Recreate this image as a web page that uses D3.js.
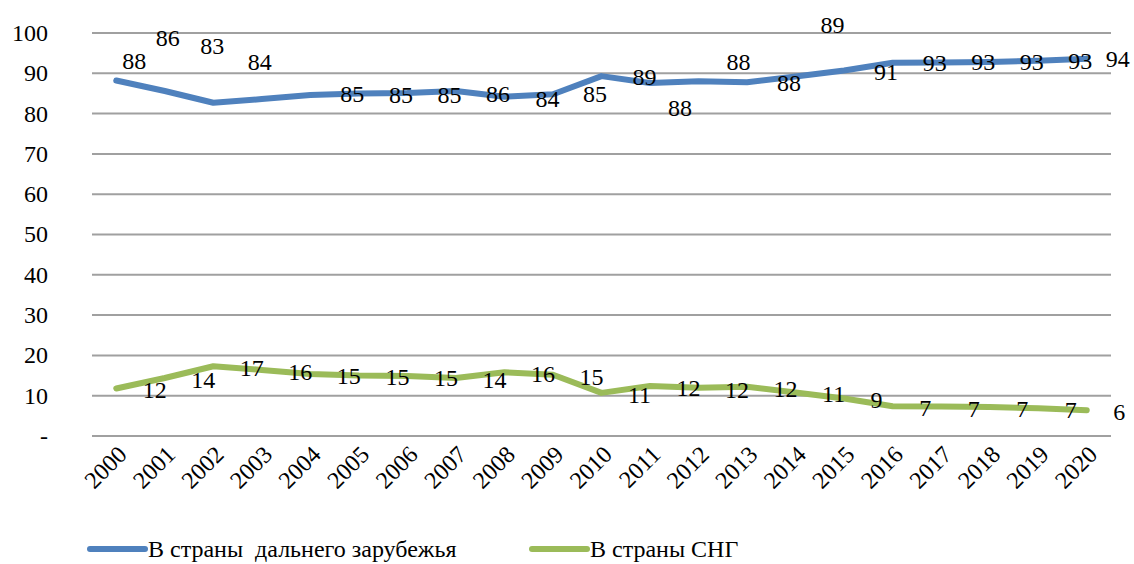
<!DOCTYPE html>
<html>
<head>
<meta charset="utf-8">
<script src="https://cdn.jsdelivr.net/npm/d3@7"></script>
<style>
  body { margin: 0; background: #fff; }
</style>
</head>
<body>
<div id="chart"></div>
<script>
// years on the x axis
const years = ["2000", "2001", "2002", "2003", "2004", "2005", "2006", "2007", "2008", "2009", "2010",
               "2011", "2012", "2013", "2014", "2015", "2016", "2017", "2018", "2019", "2020"];

// share of exports, %
const farAbroad = [88.2, 85.6, 82.7, 83.6, 84.6, 85.0, 85.1, 85.6, 84.2, 84.8, 89.3,
                   87.6, 88.0, 87.8, 89.2, 90.7, 92.6, 92.7, 92.8, 93.1, 93.6];
const cis = [11.8, 14.4, 17.3, 16.4, 15.4, 15.0, 14.9, 14.4, 15.8, 15.2, 10.7,
             12.4, 12.0, 12.2, 10.8, 9.3, 7.4, 7.3, 7.2, 6.9, 6.4];

const yTicks = [0, 10, 20, 30, 40, 50, 60, 70, 80, 90, 100];
const seriesNames = ["В страны  дальнего зарубежья", "В страны СНГ"];

// hand-placed label nudges for the blue series (px from the point)
const blueLabelShift = [[18, -19], [3, -53], [-1, -57], [-2, -37], [42, -1], [42, 2], [42, 2], [42, 3],
                        [43, 2], [42, 0], [43, 1], [30, 25], [40, -19], [42, 1], [37, -51], [42, 2],
                        [42, 0], [42, 0], [42, 0], [42, 0], [31, 0]];

const width = 1134, height = 564;
const plot = { left: 92, right: 1111, top: 33, bottom: 436 };

const svg = d3.select("#chart").append("svg")
    .attr("width", width)
    .attr("height", height)
    .style("font-family", "'Liberation Serif'")
    .style("font-size", "24px");

const x = d3.scaleBand().domain(years).range([plot.left, plot.right]);
const y = d3.scaleLinear().domain([0, 100]).range([plot.bottom, plot.top]);
const cx = d => x(d) + x.bandwidth() / 2;

// gridlines
svg.append("g").selectAll("line")
    .data(yTicks)
    .join("line")
    .attr("x1", plot.left).attr("x2", plot.right)
    .attr("y1", d => y(d)).attr("y2", d => y(d))
    .attr("stroke", "#a0a0a0")
    .attr("stroke-width", 2);

// y labels
svg.append("g").selectAll("text")
    .data(yTicks)
    .join("text")
    .attr("x", 48)
    .attr("y", d => y(d))
    .attr("dy", "0.33em")
    .attr("text-anchor", "end")
    .text(d => d === 0 ? "-" : d);

// x labels, rotated
svg.append("g").selectAll("text")
    .data(years)
    .join("text")
    .attr("transform", d => `translate(${cx(d) + 6}, ${plot.bottom + 14}) rotate(-45)`)
    .attr("text-anchor", "end")
    .attr("dy", "0.35em")
    .text(d => d);

const line = d3.line()
    .x((d, i) => cx(years[i]))
    .y(d => y(d));

const series = [
    { values: farAbroad, color: "#4f81bd" },
    { values: cis, color: "#9bbb59" }
];

series.forEach(s => {
    svg.append("path")
        .datum(s.values)
        .attr("fill", "none")
        .attr("stroke", s.color)
        .attr("stroke-width", 6)
        .attr("stroke-linejoin", "round")
        .attr("stroke-linecap", "round")
        .attr("d", line);
});

// data labels
svg.append("g").selectAll("text")
    .data(farAbroad)
    .join("text")
    .attr("x", (d, i) => cx(years[i]) + blueLabelShift[i][0])
    .attr("y", (d, i) => y(d) + blueLabelShift[i][1])
    .attr("dy", "0.33em")
    .attr("text-anchor", "middle")
    .text(d => Math.round(d));

svg.append("g").selectAll("text")
    .data(cis)
    .join("text")
    .attr("x", (d, i) => cx(years[i]) + 26.5)
    .attr("y", d => y(d) + 2)
    .attr("dy", "0.33em")
    .text(d => Math.round(d));

// legend
const legend = svg.append("g");
const legendX = [90, 532];
series.forEach((s, i) => {
    legend.append("line")
        .attr("x1", legendX[i]).attr("x2", legendX[i] + 55)
        .attr("y1", 549).attr("y2", 549)
        .attr("stroke", s.color)
        .attr("stroke-width", 6)
        .attr("stroke-linecap", "round");
    legend.append("text")
        .attr("x", legendX[i] + 58)
        .attr("y", 549)
        .attr("dy", "0.33em")
        .style("white-space", "pre")
        .text(seriesNames[i]);
});
</script>
</body>
</html>
